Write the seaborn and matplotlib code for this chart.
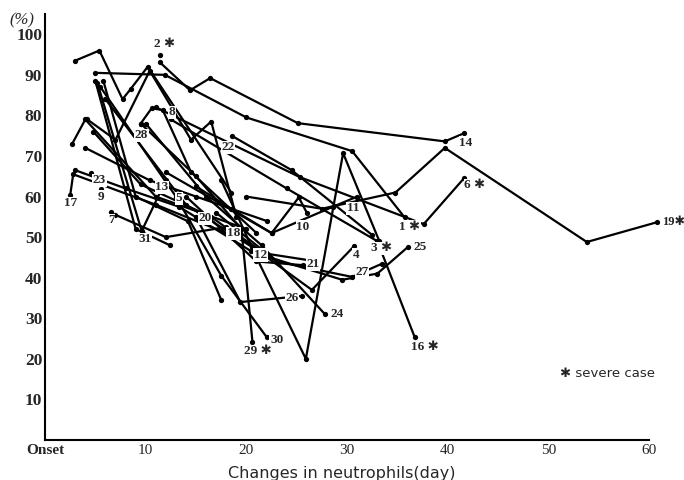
import matplotlib
matplotlib.use("Agg")
import matplotlib.pyplot as plt
import seaborn as sns
import pandas as pd

# neutrophil % per patient (day since onset, %)
patients = ["1", "2", "3", "4", "5", "6", "7", "8", "9", "10", "11", "12",
            "13", "14", "16", "17", "18", "19", "20", "21", "22", "23", "24",
            "25", "26", "27", "29", "30", "31", "a", "b", "c", "d"]
days = [
    [5.0, 11.9, 20.0, 30.5, 35.7],
    [11.4],
    [17.5, 21.0, 25.9, 29.6, 33.2],
    [4.8, 9.5, 16.5, 26.5, 30.7],
    [3.0, 8.0, 13.3, 20.5, 27.0],
    [11.0, 25.3, 37.6, 41.6],
    [6.6],
    [9.5, 10.6, 11.7, 14.5, 21.0],
    [5.6],
    [15.0, 18.5, 22.5, 25.2, 26.0],
    [12.0, 22.5, 28.6, 31.0],
    [6.0, 14.0, 20.6],
    [4.0, 10.4, 15.0, 22.0],
    [11.4, 14.4, 16.4, 25.1, 39.7, 41.6],
    [12.5, 24.0, 33.0, 36.7],
    [2.5, 2.8, 11.0, 19.0],
    [7.0, 12.0, 18.0, 23.0],
    [20.0, 27.5, 34.8, 39.7, 53.8, 60.8],
    [5.8, 9.0, 14.2, 17.5],
    [14.0, 21.0, 25.6],
    [18.6, 24.5, 32.5],
    [4.6],
    [10.0, 16.0, 21.5, 27.8],
    [21.0, 29.5, 33.0, 36.0],
    [15.0, 19.4, 25.5],
    [17.0, 23.0, 30.5, 33.5],
    [9.5, 15.0, 19.5, 20.6],
    [5.5, 13.0, 17.5, 22.0],
    [5.2, 9.6, 12.0],
    [3.0, 5.4, 7.7, 8.5, 10.2, 18.5],
    [4.2, 7.0, 10.4, 14.5, 16.5, 19.0],
    [5.0, 9.0, 12.4],
    [2.7, 4.0, 11.0, 20.0],
]
pct = [
    [90.5, 90.0, 79.5, 71.2, 54.9],
    [94.8],
    [64.0, 45.0, 20.0, 70.7, 49.0],
    [76.0, 63.0, 55.0, 37.0, 47.8],
    [66.5, 62.0, 57.5, 46.5, 44.0],
    [82.0, 64.8, 53.2, 64.5],
    [56.2],
    [78.0, 81.8, 81.3, 66.0, 51.0],
    [61.8],
    [62.5, 57.0, 51.0, 59.8, 56.0],
    [66.0, 51.0, 57.5, 60.0],
    [84.0, 58.0, 47.5],
    [72.0, 64.0, 60.0, 54.0],
    [93.1, 86.2, 89.2, 78.1, 73.6, 75.6],
    [79.0, 62.0, 49.0, 25.4],
    [60.3, 65.5, 58.0, 50.0],
    [55.5, 50.0, 52.5, 44.0],
    [60.0, 57.0, 61.0, 72.0, 48.8, 53.7],
    [88.5, 60.0, 53.9, 34.5],
    [60.0, 44.0, 43.1],
    [74.9, 66.5, 50.5],
    [65.8],
    [78.0, 60.0, 48.0, 31.0],
    [46.0, 39.5, 41.0, 47.5],
    [55.0, 34.0, 35.5],
    [56.0, 44.0, 40.2, 43.5],
    [78.0, 65.0, 52.0, 24.2],
    [87.0, 60.0, 40.5, 25.4],
    [88.0, 51.5, 64.0],
    [93.5, 96.0, 84.0, 86.5, 92.0, 61.0],
    [79.0, 74.0, 91.0, 74.0, 78.5, 55.0],
    [88.5, 52.0, 48.0],
    [73.0, 79.0, 60.0, 52.0],
]

# case numbers written beside the curves (* = severe case)
label_text = ["2 ✱", "28", "8", "22", "23", "17", "9", "7", "13", "5", "31",
              "20", "18", "12", "10", "11", "21", "4", "3 ✱", "27", "25",
              "26", "24", "30", "29 ✱", "16 ✱", "1 ✱", "14", "6 ✱"]
label_day = [11.9, 9.6, 12.6, 18.2, 5.4, 2.5, 5.6, 6.6, 11.6, 13.3, 9.9,
             15.9, 18.7, 21.4, 25.6, 30.6, 26.6, 30.9, 33.4, 31.5, 37.2,
             24.5, 29.0, 23.0, 21.1, 37.7, 36.2, 41.8, 42.7]
label_pct = [97.5, 75.1, 80.8, 72.2, 64.0, 58.4, 59.9, 54.2, 62.3, 59.6, 49.5,
             54.7, 51.0, 45.6, 52.5, 57.1, 43.3, 45.6, 47.3, 41.4, 47.5,
             35.0, 31.0, 24.6, 21.9, 22.9, 52.5, 73.2, 62.8]

rows = []
for p, dd, vv in zip(patients, days, pct):
    for d, v in zip(dd, vv):
        rows.append({"patient": p, "day": d, "pct": v})
df = pd.DataFrame(rows)

sns.set_style("white")
plt.rcParams["font.family"] = ["Liberation Serif", "DejaVu Sans"]

fig = plt.figure(figsize=(6.84, 4.8), dpi=100)
ax = fig.add_axes([45 / 684, 40 / 480, 639 / 684, 426 / 480])

sns.lineplot(data=df, x="day", y="pct", units="patient", estimator=None,
             sort=False, color="black", lw=1.6, marker="o", markersize=3.8,
             markeredgewidth=0, legend=False, ax=ax)

for t, d, v in zip(label_text, label_day, label_pct):
    ax.text(d, v, t, ha="center", va="center", fontsize=9.5, fontweight="bold",
            family=["Liberation Serif", "DejaVu Sans"],
            bbox=dict(fc="white", ec="none", pad=0.4), zorder=5)

# last case sits right on the edge of the figure
ax.text(61.3, 53.7, "19✱", ha="left", va="center", fontsize=9,
        fontweight="bold", family=["Liberation Serif", "DejaVu Sans"],
        clip_on=False)

ax.text(55.9, 16.3, "✱ severe case", ha="center", va="center", fontsize=9.5,
        family=["DejaVu Sans"])

ax.set_xlim(0, 63.45)
ax.set_ylim(0, 105)
ax.spines["top"].set_visible(False)
ax.spines["right"].set_visible(False)
ax.spines["bottom"].set_bounds(0, 60)
for s in ("left", "bottom"):
    ax.spines[s].set_linewidth(1.5)
    ax.spines[s].set_color("black")

ax.set_yticks(range(10, 101, 10))
ax.set_yticklabels([str(v) for v in range(10, 101, 10)], fontsize=12.5,
                   fontweight="bold")
ax.set_xticks(range(0, 61, 10))
ax.set_xticklabels(["Onset"] + [str(v) for v in range(10, 61, 10)], fontsize=11)
ax.get_xticklabels()[0].set_fontweight("bold")
ax.tick_params(axis="both", direction="in", length=7, width=1.3, color="black",
               pad=3)
ax.tick_params(axis="y", pad=2)

ax.set_xlabel("Changes in neutrophils(day)", fontsize=11.5,
              family=["DejaVu Sans"])
ax.set_ylabel("")
ax.xaxis.set_label_coords((342 - 45) / 639, -0.062)
ax.text(-0.036, 0.986, "(%)", transform=ax.transAxes, ha="center", va="center",
        fontsize=12, style="italic")

fig.savefig("out.png", dpi=100)
